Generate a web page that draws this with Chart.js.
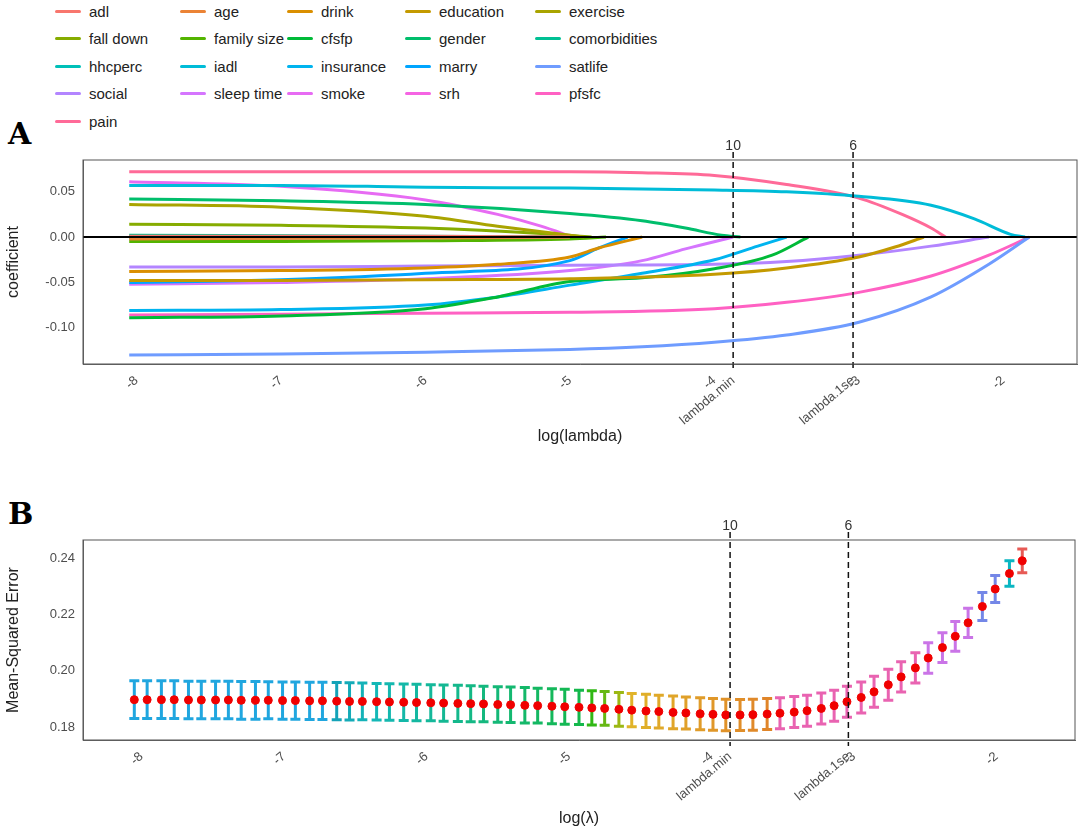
<!DOCTYPE html>
<html><head><meta charset="utf-8">
<script src="https://cdn.jsdelivr.net/npm/chart.js@4"></script>
<style>
body{margin:0;width:1080px;height:832px;background:#fff;position:relative;font-family:"Liberation Sans",Arial,sans-serif;overflow:hidden}
.lg{position:absolute;font-size:15px;color:#222;display:flex;align-items:center;height:20px}
.lg span{display:inline-block;width:26px;height:3px;margin-right:8px;border-radius:2px}
.pl{position:absolute;font-family:"DejaVu Serif",serif;font-weight:bold;font-size:30px}
canvas{position:absolute;left:0}
</style></head><body>
<div id="legend"></div>
<div class="pl" style="left:8px;top:116px">A</div>
<div class="pl" style="left:8px;top:496px">B</div>
<canvas id="cA" style="top:140px" width="1080" height="310"></canvas>
<canvas id="cB" style="top:515px" width="1080" height="317"></canvas>
<script>
const variables=["adl","age","drink","education","exercise","fall down","family size","cfsfp","gender","comorbidities","hhcperc","iadl","insurance","marry","satlife","social","sleep time","smoke","srh","pfsfc","pain"];
const varColors=["#F8766D","#EB8335","#DA8F00","#C49A00","#A9A400","#86AC00","#53B400","#00BA38","#00BE6C","#00C094","#00C0B8","#00BCD8","#00B4EF","#00A5FF","#6F9CFF","#B385FF","#D575FE","#E76BF3","#F564E3","#FF61C3","#FF6A98"];
const paths={
"adl":[[-8.05,0.001],[-6,0.001],[-5,0]],
"age":[[-8.05,-0.002],[-6,-0.001],[-5,0]],
"drink":[[-8.05,-0.038],[-7,-0.037],[-6,-0.034],[-5.5,-0.03],[-5,-0.022],[-4.8,-0.012],[-4.5,0]],
"education":[[-8.05,-0.048],[-7,-0.048],[-6,-0.047],[-5,-0.046],[-4,-0.041],[-3.5,-0.034],[-3,-0.022],[-2.75,-0.011],[-2.55,0]],
"exercise":[[-8.05,0.036],[-7,0.033],[-6,0.023],[-5.5,0.012],[-5,0.002],[-4.9,0]],
"fall down":[[-8.05,0.014],[-7,0.013],[-6,0.01],[-5.2,0.004],[-4.85,0]],
"family size":[[-8.05,-0.005],[-7,-0.005],[-6,-0.004],[-5,-0.002],[-4.75,0]],
"cfsfp":[[-8.05,-0.089],[-7,-0.087],[-6,-0.079],[-5.5,-0.066],[-5,-0.049],[-4.5,-0.045],[-4,-0.035],[-3.6,-0.02],[-3.35,0]],
"gender":[[-8.05,0.042],[-7,0.04],[-6,0.036],[-5,0.026],[-4.5,0.018],[-4.2,0.01],[-3.95,0.002],[-3.82,0]],
"comorbidities":[[-8.05,0.002],[-6,0.001],[-5,0]],
"hhcperc":[[-8.05,-0.001],[-6,-0.001],[-5,0]],
"iadl":[[-8.05,0.057],[-7,0.057],[-6,0.055],[-5,0.054],[-4,0.052],[-3.5,0.05],[-3,0.045],[-2.5,0.035],[-2.2,0.02],[-1.95,0.003],[-1.85,0]],
"insurance":[[-8.05,-0.081],[-7,-0.08],[-6,-0.075],[-5.5,-0.066],[-5,-0.053],[-4.5,-0.04],[-4,-0.025],[-3.7,-0.01],[-3.5,0]],
"marry":[[-8.05,-0.05],[-7,-0.047],[-6,-0.04],[-5,-0.026],[-4.8,-0.012],[-4.6,0]],
"satlife":[[-8.05,-0.13],[-7,-0.129],[-6,-0.127],[-5,-0.124],[-4.5,-0.121],[-4,-0.116],[-3.5,-0.108],[-3,-0.094],[-2.5,-0.066],[-2.1,-0.03],[-1.82,0]],
"social":[[-8.05,-0.033],[-7,-0.033],[-6,-0.032],[-5,-0.031],[-4,-0.03],[-3.5,-0.027],[-3,-0.02],[-2.5,-0.01],[-2.1,0]],
"sleep time":[[-8.05,-0.052],[-7,-0.05],[-6,-0.046],[-5,-0.037],[-4.5,-0.026],[-4.2,-0.013],[-3.87,0]],
"smoke":[[-8.05,0.061],[-7,0.056],[-6,0.041],[-5.5,0.025],[-5.2,0.012],[-4.98,0]],
"srh":[[-8.05,0.0],[-6,0],[-5,0]],
"pfsfc":[[-8.05,-0.086],[-7,-0.085],[-6,-0.084],[-5,-0.083],[-4,-0.079],[-3.5,-0.072],[-3,-0.061],[-2.5,-0.043],[-2.1,-0.02],[-1.82,0]],
"pain":[[-8.05,0.072],[-7,0.072],[-6,0.072],[-5,0.072],[-4.5,0.071],[-4,0.068],[-3.5,0.058],[-3,0.043],[-2.7,0.025],[-2.5,0.01],[-2.4,0]]
};
const xTicks=[-8,-7,-6,-5,-4,-3,-2];
const lambdaMin=-3.87, lambda1se=-3.04;
const topLabels=["10","6"];
const logLambda=[-8.05,-7.96,-7.86,-7.77,-7.67,-7.58,-7.48,-7.39,-7.30,-7.20,-7.11,-7.01,-6.92,-6.82,-6.73,-6.63,-6.54,-6.45,-6.35,-6.26,-6.16,-6.07,-5.97,-5.88,-5.78,-5.69,-5.60,-5.50,-5.41,-5.31,-5.22,-5.12,-5.03,-4.93,-4.84,-4.75,-4.65,-4.56,-4.46,-4.37,-4.27,-4.18,-4.08,-3.99,-3.90,-3.80,-3.71,-3.61,-3.52,-3.42,-3.33,-3.23,-3.14,-3.05,-2.95,-2.86,-2.76,-2.67,-2.57,-2.48,-2.38,-2.29,-2.20,-2.10,-2.01,-1.91,-1.82];
const mse=[.1897,.1897,.1897,.1897,.1896,.1896,.1896,.1896,.1895,.1895,.1895,.1894,.1894,.1893,.1893,.1892,.1891,.1891,.1890,.1889,.1888,.1887,.1886,.1885,.1884,.1883,.1882,.1880,.1879,.1877,.1876,.1874,.1872,.1870,.1868,.1866,.1863,.1860,.1857,.1855,.1852,.1850,.1847,.1845,.1843,.1843,.1844,.1846,.1849,.1853,.1858,.1866,.1876,.1890,.1905,.1925,.1950,.1978,.2010,.2045,.2082,.2122,.2170,.2228,.2290,.2345,.2390];
const mseSE=[.0067,.0067,.0067,.0067,.0067,.0067,.0067,.0067,.0067,.0067,.0066,.0066,.0066,.0066,.0066,.0066,.0066,.0065,.0065,.0065,.0065,.0065,.0064,.0064,.0064,.0064,.0063,.0063,.0063,.0063,.0062,.0062,.0062,.0061,.0061,.0060,.0060,.0059,.0059,.0058,.0058,.0057,.0057,.0056,.0056,.0055,.0055,.0055,.0055,.0055,.0055,.0055,.0055,.0055,.0055,.0055,.0055,.0054,.0054,.0054,.0053,.0053,.0052,.0050,.0048,.0045,.0042];

const lg=document.getElementById('legend');
const colX=[55,180,287,405,535], rowY=[1,28,56,83,111];
variables.forEach((v,i)=>{const d=document.createElement('div');d.className='lg';d.style.left=colX[i%5]+'px';d.style.top=rowY[Math.floor(i/5)]+'px';d.innerHTML='<span style="background:'+varColors[i]+'"></span>'+v;lg.appendChild(d);});

function barHue(i){
  if(i<=14) return 'hsl(198,75%,50%)';
  if(i<=33) return 'hsl('+(190-(i-14)*2.6)+',80%,40%)';
  if(i<=36) return 'hsl('+(130-(i-33)*20)+',80%,40%)';
  if(i<=47) return 'hsl('+(45-(i-37)*1.5)+',75%,52%)';
  if(i<=58) return 'hsl(325,75%,65%)';
  if(i<=62) return 'hsl(285,70%,68%)';
  if(i<=64) return 'hsl(230,70%,68%)';
  if(i===65) return 'hsl(184,90%,40%)';
  return 'hsl(2,75%,62%)';
}
const tickFont={size:13,family:'"Liberation Sans",Arial'};
function xAxis(min,max,title){
  return {type:'linear',min,max,
    afterBuildTicks:s=>{s.ticks=xTicks.map(v=>({value:v})).concat([{value:lambdaMin},{value:lambda1se}]);},
    ticks:{minRotation:40,maxRotation:40,color:'#4d4d4d',font:tickFont,autoSkip:false,
      callback:v=>v===lambdaMin?'lambda.min':v===lambda1se?'lambda.1se':String(v)},
    grid:{display:false,drawTicks:true,tickLength:6,color:'#333'},
    border:{color:'#666'},
    title:{display:true,text:title,color:'#222',font:{size:16,family:'"Liberation Sans",Arial'},padding:{top:0}},
  };
}
const vlinePlugin={id:'vl',afterDatasetsDraw(c,a,o){
  const ctx=c.ctx,x=c.scales.x,ar=c.chartArea;ctx.save();
  if(o.zero){const y=c.scales.y.getPixelForValue(0);ctx.strokeStyle='#000';ctx.lineWidth=2;ctx.beginPath();ctx.moveTo(ar.left,y);ctx.lineTo(ar.right,y);ctx.stroke();}
  [lambdaMin,lambda1se].forEach((v,k)=>{const px=x.getPixelForValue(v);ctx.strokeStyle='#111';ctx.lineWidth=1.5;ctx.setLineDash([6,4]);ctx.beginPath();ctx.moveTo(px,ar.top-8);ctx.lineTo(px,ar.bottom+6);ctx.stroke();ctx.setLineDash([]);
    ctx.fillStyle='#333';ctx.font='14px "Liberation Sans"';ctx.textAlign='center';ctx.fillText(topLabels[k],px,ar.top-10);});
  ctx.strokeStyle='#555';ctx.lineWidth=1;ctx.strokeRect(ar.left,ar.top,ar.right-ar.left,ar.bottom-ar.top);
  ctx.restore();}};
const ebPlugin={id:'eb',beforeDatasetsDraw(c){
  const ctx=c.ctx,x=c.scales.x,y=c.scales.y;ctx.save();ctx.lineWidth=3;
  logLambda.forEach((lx,i)=>{const px=x.getPixelForValue(lx),t=y.getPixelForValue(mse[i]+mseSE[i]),b=y.getPixelForValue(mse[i]-mseSE[i]);
    ctx.strokeStyle=barHue(i);ctx.beginPath();ctx.moveTo(px,t);ctx.lineTo(px,b);ctx.moveTo(px-5,t);ctx.lineTo(px+5,t);ctx.moveTo(px-5,b);ctx.lineTo(px+5,b);ctx.stroke();});
  ctx.restore();}};

new Chart(document.getElementById('cA'),{type:'line',
  data:{datasets:variables.map((v,i)=>({label:v,data:paths[v].map(p=>({x:p[0],y:p[1]})),borderColor:varColors[i],borderWidth:3,pointRadius:0,cubicInterpolationMode:'monotone',fill:false}))},
  options:{responsive:false,animation:false,layout:{padding:{top:20,right:3}},
    plugins:{legend:{display:false},tooltip:{enabled:false},vl:{zero:true}},
    scales:{x:Object.assign(xAxis(-8.37,-1.49,'log(lambda)'),{afterFit:s=>{s.height=86;}}),
      y:{min:-0.14,max:0.085,afterBuildTicks:s=>{s.ticks=[-0.1,-0.05,0,0.05].map(v=>({value:v}));},
        ticks:{color:'#4d4d4d',font:tickFont,callback:v=>v.toFixed(2)},grid:{display:false,tickLength:5,color:'#333'},border:{color:'#666'},
        title:{display:true,text:'coefficient',color:'#222',font:{size:16,family:'"Liberation Sans",Arial'},padding:{bottom:2}},afterFit:s=>{s.width=83;}}}},
  plugins:[vlinePlugin]});

new Chart(document.getElementById('cB'),{type:'scatter',
  data:{datasets:[{data:logLambda.map((x,i)=>({x,y:mse[i]})),backgroundColor:'#f00000',borderColor:'#f00000',pointRadius:4}]},
  options:{responsive:false,animation:false,layout:{padding:{top:25,right:3}},
    plugins:{legend:{display:false},tooltip:{enabled:false},vl:{zero:false}},
    scales:{x:Object.assign(xAxis(-8.41,-1.45,'log(λ)'),{afterFit:s=>{s.height=92;}}),
      y:{min:0.1754,max:0.2464,afterBuildTicks:s=>{s.ticks=[0.18,0.20,0.22,0.24].map(v=>({value:v}));},
        ticks:{color:'#4d4d4d',font:tickFont,callback:v=>v.toFixed(2)},grid:{display:false,tickLength:5,color:'#333'},border:{color:'#666'},
        title:{display:true,text:'Mean-Squared Error',color:'#222',font:{size:16,family:'"Liberation Sans",Arial'},padding:{bottom:2}},afterFit:s=>{s.width=83;}}}},
  plugins:[ebPlugin,vlinePlugin]});
</script></body></html>
